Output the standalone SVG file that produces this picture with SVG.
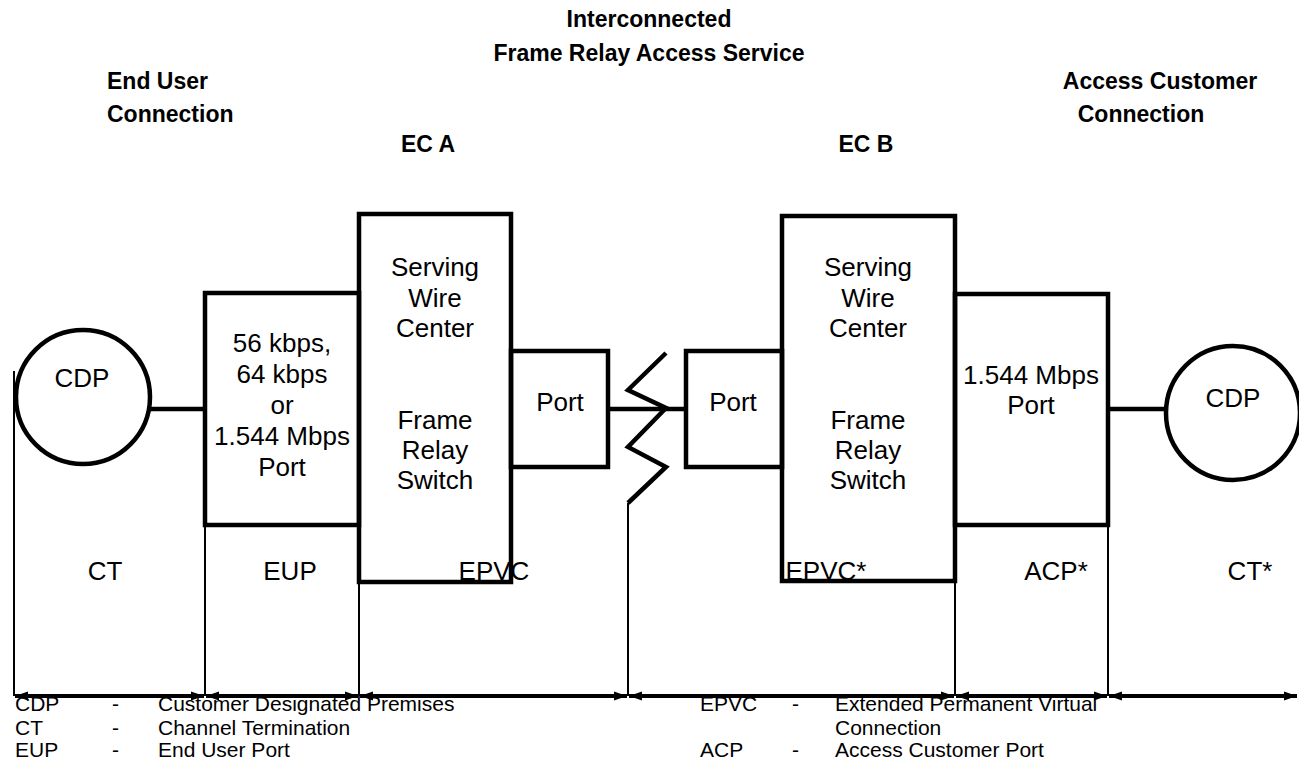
<svg xmlns="http://www.w3.org/2000/svg" width="1299" height="764" viewBox="0 0 1299 764">
<style>
text{font-family:"Liberation Sans",Arial,sans-serif;fill:#000}
.t{font-size:23px;font-weight:bold}
.b{font-size:26px;text-anchor:middle}
.l{font-size:26px;text-anchor:middle}
.g{font-size:21px}
.box{fill:none;stroke:#000;stroke-width:4.5}
.thick{fill:none;stroke:#000;stroke-width:4.5}
.thin{fill:none;stroke:#000;stroke-width:2}
.arr{fill:none;stroke:#000;stroke-width:4;marker-start:url(#ah);marker-end:url(#ah)}
</style>
<defs>
<marker id="ah" markerUnits="userSpaceOnUse" markerWidth="14" markerHeight="12" refX="13" refY="6" orient="auto-start-reverse" viewBox="0 0 14 12">
<path d="M0,1.5 L13,6 L0,10.5 Z" fill="#000"/>
</marker>
</defs>
<rect width="1299" height="764" fill="#fff"/>
<g id="titles">
<text class="t" x="649" y="27" text-anchor="middle">Interconnected</text>
<text class="t" x="649" y="61" text-anchor="middle">Frame Relay Access Service</text>
<text class="t" x="107" y="89">End User</text>
<text class="t" x="107" y="122">Connection</text>
<text class="t" x="1160" y="89" text-anchor="middle">Access Customer</text>
<text class="t" x="1141" y="122" text-anchor="middle">Connection</text>
<text class="t" x="428" y="152" text-anchor="middle">EC A</text>
<text class="t" x="866" y="152" text-anchor="middle">EC B</text>
</g>
<g id="connectors">
<line class="thick" x1="150" y1="409" x2="205" y2="409"/>
<line class="thick" x1="608" y1="409" x2="686" y2="409"/>
<line class="thick" x1="1108" y1="409" x2="1166" y2="409"/>
<polyline class="thick" points="666,353 628,390 666,408 628,447 666,467 628,503"/>
<line class="thin" x1="628" y1="503" x2="628" y2="696"/>
<line class="thin" x1="14" y1="371" x2="14" y2="696"/>
<line class="thin" x1="205" y1="525" x2="205" y2="696"/>
<line class="thin" x1="359" y1="582" x2="359" y2="696"/>
<line class="thin" x1="955" y1="581" x2="955" y2="696"/>
<line class="thin" x1="1108" y1="525" x2="1108" y2="696"/>
<line class="arr" x1="15" y1="696" x2="204" y2="696"/>
<line class="arr" x1="206" y1="696" x2="358" y2="696"/>
<line class="arr" x1="360" y1="696" x2="627" y2="696"/>
<line class="arr" x1="629" y1="696" x2="954" y2="696"/>
<line class="arr" x1="956" y1="696" x2="1107" y2="696"/>
<line class="arr" x1="1109" y1="696" x2="1297" y2="696"/>
</g>
<g id="cdp-left">
<circle cx="83" cy="397" r="67" fill="#fff" stroke="#000" stroke-width="4.5"/>
<text class="b" x="82" y="387">CDP</text>
</g>
<g id="eup-port">
<rect class="box" x="205" y="293" width="154" height="232"/>
<text class="b" x="282" y="352">56 kbps,</text>
<text class="b" x="282" y="383">64 kbps</text>
<text class="b" x="282" y="414">or</text>
<text class="b" x="282" y="445">1.544 Mbps</text>
<text class="b" x="282" y="476">Port</text>
</g>
<g id="switch-a">
<rect class="box" x="359" y="214" width="152" height="368"/>
<text class="b" x="435" y="276">Serving</text>
<text class="b" x="435" y="307">Wire</text>
<text class="b" x="435" y="337">Center</text>
<text class="b" x="435" y="429">Frame</text>
<text class="b" x="435" y="459">Relay</text>
<text class="b" x="435" y="489">Switch</text>
</g>
<g id="port-a">
<rect class="box" x="511" y="351" width="97" height="116"/>
<text class="b" x="560" y="411">Port</text>
</g>
<g id="port-b">
<rect class="box" x="686" y="351" width="96" height="116"/>
<text class="b" x="733" y="411">Port</text>
</g>
<g id="switch-b">
<rect class="box" x="782" y="216" width="173" height="365"/>
<text class="b" x="868" y="276">Serving</text>
<text class="b" x="868" y="307">Wire</text>
<text class="b" x="868" y="337">Center</text>
<text class="b" x="868" y="429">Frame</text>
<text class="b" x="868" y="459">Relay</text>
<text class="b" x="868" y="489">Switch</text>
</g>
<g id="acp-port">
<rect class="box" x="955" y="294" width="153" height="231"/>
<text class="b" x="1031" y="384">1.544 Mbps</text>
<text class="b" x="1031" y="414">Port</text>
</g>
<g id="cdp-right">
<circle cx="1233" cy="413" r="67" fill="#fff" stroke="#000" stroke-width="4.5"/>
<text class="b" x="1233" y="407">CDP</text>
</g>
<g id="segment-labels">
<text class="l" x="105" y="580">CT</text>
<text class="l" x="290" y="580">EUP</text>
<text class="l" x="494" y="580">EPVC</text>
<text class="l" x="826" y="580">EPVC*</text>
<text class="l" x="1056" y="580">ACP*</text>
<text class="l" x="1250" y="580">CT*</text>
</g>
<g id="legend">
<text class="g" x="15" y="711">CDP</text>
<text class="g" x="112" y="711">-</text>
<text class="g" x="158" y="711">Customer Designated Premises</text>
<text class="g" x="15" y="735">CT</text>
<text class="g" x="112" y="735">-</text>
<text class="g" x="158" y="735">Channel Termination</text>
<text class="g" x="15" y="757">EUP</text>
<text class="g" x="112" y="757">-</text>
<text class="g" x="158" y="757">End User Port</text>
<text class="g" x="700" y="711">EPVC</text>
<text class="g" x="792" y="711">-</text>
<text class="g" x="835" y="711">Extended Permanent Virtual</text>
<text class="g" x="835" y="735">Connection</text>
<text class="g" x="700" y="757">ACP</text>
<text class="g" x="792" y="757">-</text>
<text class="g" x="835" y="757">Access Customer Port</text>
</g>
</svg>
